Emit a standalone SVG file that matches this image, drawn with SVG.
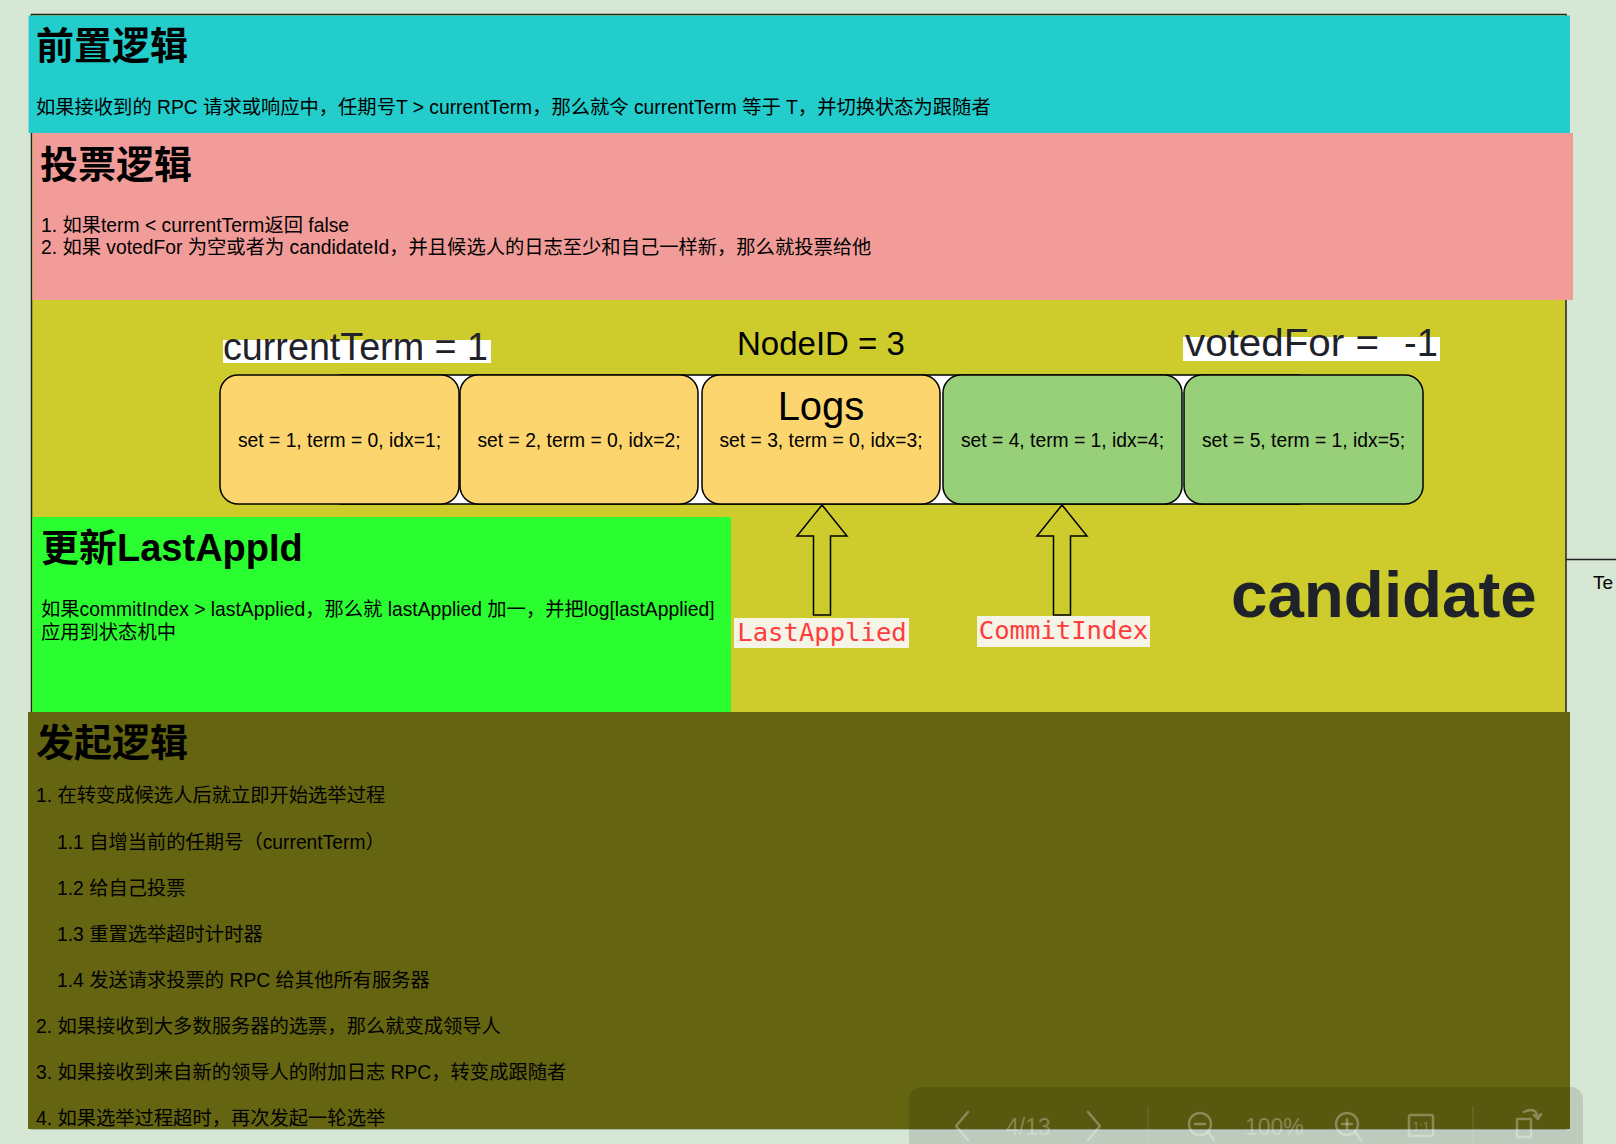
<svg xmlns="http://www.w3.org/2000/svg" width="1616" height="1144" viewBox="0 0 1616 1144">
<defs>
<style>
.t{font-family:"Liberation Sans","Noto Sans CJK SC",sans-serif;fill:#000}
.h{font-size:38px;font-weight:bold}
.b{font-size:19.3px}
.big{font-family:"Liberation Sans",sans-serif;font-size:38px;fill:#1f2329}
.log{font-family:"Liberation Sans",sans-serif;font-size:19.3px;fill:#000;text-anchor:middle}
.box{stroke:#000;stroke-width:1.5}
.y{fill:#fdd56f}
.g{fill:#98cf79}
.arrow{fill:#cdcc2c;stroke:#000;stroke-width:1.5}
.lbl{font-family:"DejaVu Sans Mono","Liberation Mono",monospace;font-size:25.6px;fill:#ff3d3d;text-anchor:middle}
.tb{fill:none;stroke:#fff;stroke-opacity:0.3;stroke-width:2.5;stroke-linecap:round;stroke-linejoin:round}
.tbt{font-family:"Liberation Sans",sans-serif;font-size:23px;fill:#fff;fill-opacity:0.3}
</style>
</defs>
<rect x="0" y="0" width="1616" height="1144" fill="#d6e8d5"/>

<g id="container">
<rect x="31.5" y="14.5" width="1534.5" height="1114" fill="#cdcc2c" stroke="#222" stroke-width="1.5"/>
</g>

<g id="pre-logic">
<rect x="28.5" y="15.5" width="1541.5" height="117.5" fill="#22cdcc"/>
<text class="t h" x="36" y="59">前置逻辑</text>
<text class="t b" x="36" y="114">如果接收到的 RPC 请求或响应中，任期号T &gt; currentTerm，那么就令 currentTerm 等于 T，并切换状态为跟随者</text>
</g>

<g id="vote-logic">
<rect x="32.5" y="133" width="1540.5" height="167" fill="#f19c99"/>
<text class="t h" x="40" y="178">投票逻辑</text>
<text class="t b" x="41" y="232">1. 如果term &lt; currentTerm返回 false</text>
<text class="t b" x="41" y="254">2. 如果 votedFor 为空或者为 candidateId，并且候选人的日志至少和自己一样新，那么就投票给他</text>
</g>

<g id="current-term">
<rect x="223" y="340" width="268" height="23" fill="#fff"/>
<text class="big" x="223" y="360" textLength="265" lengthAdjust="spacingAndGlyphs">currentTerm = 1</text>
</g>
<g id="node-id">
<text class="t" x="737" y="355" style="font-size:33px">NodeID = 3</text>
</g>
<g id="voted-for">
<rect x="1183" y="337" width="257" height="24" fill="#fff"/>
<text class="big" x="1185" y="356"><tspan textLength="194" lengthAdjust="spacingAndGlyphs">votedFor =</tspan><tspan x="1404">-1</tspan></text>
</g>

<g id="logs">
<rect x="340" y="375" width="960" height="129" fill="#fff" stroke="#000" stroke-width="1.5"/>
<g id="log1"><rect class="box y" x="220" y="375" width="239" height="129" rx="18"/><text class="log" x="339.5" y="447">set = 1, term = 0, idx=1;</text></g>
<g id="log2"><rect class="box y" x="460" y="375" width="238" height="129" rx="18"/><text class="log" x="579" y="447">set = 2, term = 0, idx=2;</text></g>
<g id="log3"><rect class="box y" x="702" y="375" width="238" height="129" rx="18"/><text class="log" x="821" y="420" style="font-size:40px">Logs</text><text class="log" x="821" y="447">set = 3, term = 0, idx=3;</text></g>
<g id="log4"><rect class="box g" x="943" y="375" width="239" height="129" rx="18"/><text class="log" x="1062.5" y="447">set = 4, term = 1, idx=4;</text></g>
<g id="log5"><rect class="box g" x="1184" y="375" width="239" height="129" rx="18"/><text class="log" x="1303.5" y="447">set = 5, term = 1, idx=5;</text></g>
</g>

<g id="update-lastapplied">
<rect x="32.5" y="517" width="698.5" height="195" fill="#2afe30"/>
<text class="t h" x="41" y="561">更新LastAppId</text>
<text class="t b" x="41" y="616">如果commitIndex &gt; lastApplied，那么就 lastApplied 加一，并把log[lastApplied]</text>
<text class="t b" x="41" y="639">应用到状态机中</text>
</g>

<g id="connectors">
<path class="arrow" d="M822,505 L847,536 L830.5,536 L830.5,615 L813.5,615 L813.5,536 L797,536 Z"/>
<path class="arrow" d="M1062,505 L1087,536 L1070.5,536 L1070.5,615 L1053.5,615 L1053.5,536 L1037,536 Z"/>
</g>

<g id="label-lastapplied">
<rect x="734" y="618" width="175" height="30" fill="#f6f3e7"/>
<text class="lbl" x="822" y="641">LastApplied</text>
</g>
<g id="label-commitindex">
<rect x="977" y="616" width="173" height="31" fill="#f6f3e7"/>
<text class="lbl" x="1063.5" y="639">CommitIndex</text>
</g>

<g id="candidate">
<text x="1231" y="617" style="font-family:'Liberation Sans',sans-serif;font-size:65.5px;font-weight:bold;fill:#1f2329">candidate</text>
</g>

<g id="election-logic">
<rect x="28" y="712" width="1542" height="417" fill="#656511"/>
<text class="t h" x="36" y="756">发起逻辑</text>
<text class="t b" x="36" y="802">1. 在转变成候选人后就立即开始选举过程</text>
<text class="t b" x="57" y="849">1.1 自增当前的任期号（currentTerm）</text>
<text class="t b" x="57" y="895">1.2 给自己投票</text>
<text class="t b" x="57" y="941">1.3 重置选举超时计时器</text>
<text class="t b" x="57" y="987">1.4 发送请求投票的 RPC 给其他所有服务器</text>
<text class="t b" x="36" y="1033">2. 如果接收到大多数服务器的选票，那么就变成领导人</text>
<text class="t b" x="36" y="1079">3. 如果接收到来自新的领导人的附加日志 RPC，转变成跟随者</text>
<text class="t b" x="36" y="1125">4. 如果选举过程超时，再次发起一轮选举</text>
</g>

<g id="side-table">
<line x1="1566" y1="559.5" x2="1616" y2="559.5" stroke="#222" stroke-width="1.5"/>
<text class="t" x="1593" y="589" style="font-size:19px">Te</text>
</g>

<g id="toolbar">
<rect x="909" y="1087" width="674" height="80" rx="12" fill="#000" fill-opacity="0.12"/>
<polyline class="tb" points="968,1112 956,1126 968,1140"/>
<text class="tbt" x="1006" y="1135">4/13</text>
<polyline class="tb" points="1088,1112 1100,1126 1088,1140"/>
<line x1="1148" y1="1106" x2="1148" y2="1144" stroke="#fff" stroke-opacity="0.15" stroke-width="1"/>
<circle class="tb" cx="1200" cy="1124" r="11"/>
<line class="tb" x1="1208" y1="1132" x2="1214" y2="1140"/>
<line class="tb" x1="1195" y1="1124" x2="1205" y2="1124"/>
<text class="tbt" x="1245" y="1135">100%</text>
<circle class="tb" cx="1347" cy="1124" r="11"/>
<line class="tb" x1="1355" y1="1132" x2="1361" y2="1140"/>
<line class="tb" x1="1342" y1="1124" x2="1352" y2="1124"/>
<line class="tb" x1="1347" y1="1119" x2="1347" y2="1129"/>
<rect class="tb" x="1409" y="1115" width="24" height="21" rx="2"/>
<text x="1421" y="1131" text-anchor="middle" style="font-family:'Liberation Sans',sans-serif;font-size:12px;fill:#fff;fill-opacity:0.3">1:1</text>
<line x1="1473" y1="1106" x2="1473" y2="1144" stroke="#fff" stroke-opacity="0.15" stroke-width="1"/>
<rect class="tb" x="1517" y="1119" width="14" height="18"/>
<path class="tb" d="M1524,1112 Q1536,1106 1538,1118 M1534,1115 L1538,1119 L1541,1114"/>
</g>
</svg>
